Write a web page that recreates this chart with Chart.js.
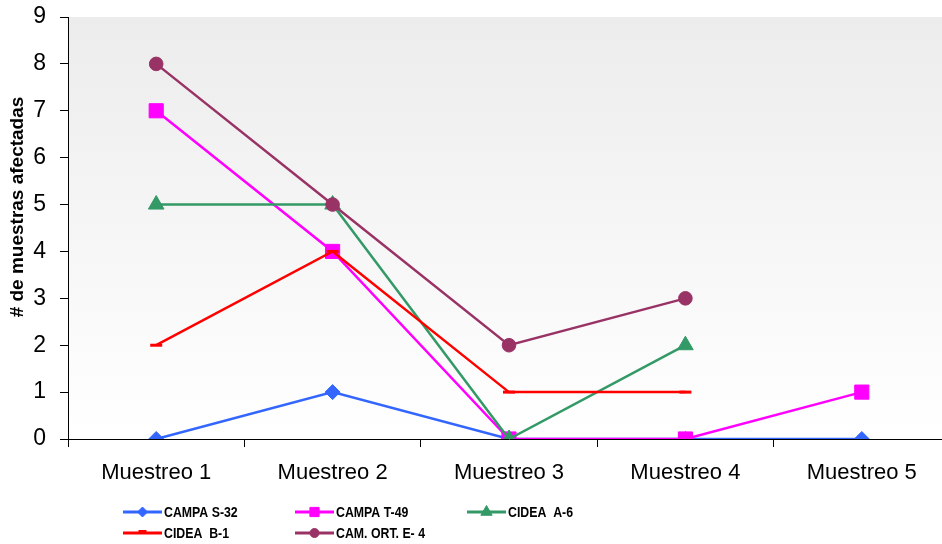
<!DOCTYPE html>
<html>
<head>
<meta charset="utf-8">
<script src="https://cdn.jsdelivr.net/npm/chart.js"></script>
<style>
  html, body { margin: 0; padding: 0; background: #fff; overflow: hidden; }
  #wrap { width: 961px; height: 544px; }
</style>
</head>
<body>
<div id="wrap"><canvas id="chart" width="961" height="544"></canvas></div>
<script>
const categories = ["Muestreo 1", "Muestreo 2", "Muestreo 3", "Muestreo 4", "Muestreo 5"];
const campaS32 = [0, 1, 0, 0, 0];
const campaT49 = [7, 4, 0, 0, 1];
const cideaA6 = [5, 5, 0, 2, null];
const cideaB1 = [2, 4, 1, 1, null];
const camOrtE4 = [8, 5, 2, 3, null];
const yTicks = [0, 1, 2, 3, 4, 5, 6, 7, 8, 9];
const yTitle = "# de muestras afectadas";

const series = [
  { label: "CAMPA S-32", data: campaS32, color: "#3366FF", style: "rectRot", r: 7.5, lr: 5 },
  { label: "CAMPA T-49", data: campaT49, color: "#FF00FF", style: "rect", r: 10, lr: 6.5 },
  { label: "CIDEA  A-6", data: cideaA6, color: "#339966", style: "triangle", r: 9, lr: 6.5 },
  { label: "CIDEA  B-1", data: cideaB1, color: "#FF0000", style: "line", r: 6, lr: 4 },
  { label: "CAM. ORT. E- 4", data: camOrtE4, color: "#993366", style: "circle", r: 6.8, lr: 4.5 }
];

// plot background gradient + axis title
const bgPlugin = {
  id: "bg",
  beforeDraw(chart) {
    const { ctx, chartArea: a } = chart;
    const g = ctx.createLinearGradient(0, a.top, 0, a.bottom);
    g.addColorStop(0, "#ececec");
    g.addColorStop(1, "#ffffff");
    ctx.save();
    ctx.fillStyle = g;
    ctx.fillRect(a.left, a.top, a.right - a.left, a.bottom - a.top);
    ctx.restore();
  },
  afterDraw(chart) {
    const ctx = chart.ctx;
    ctx.save();
    ctx.translate(18, 207);
    ctx.rotate(-Math.PI / 2);
    ctx.fillStyle = "#000";
    ctx.font = "bold 19px Arial, 'Liberation Sans', sans-serif";
    ctx.textAlign = "center";
    ctx.textBaseline = "middle";
    ctx.fillText(yTitle, 0, 0);
    ctx.restore();
  }
};

// legend in a 3-column grid under the axis
const legendPlugin = {
  id: "gridLegend",
  afterDraw(chart) {
    const ctx = chart.ctx;
    const colX = [123, 295, 467];
    const rowY = [512, 533];
    chart.data.datasets.forEach((ds, i) => {
      const s = series[i];
      const x = colX[i % 3], y = rowY[Math.floor(i / 3)];
      ctx.save();
      ctx.strokeStyle = s.color;
      ctx.fillStyle = s.color;
      ctx.lineWidth = 3;
      ctx.beginPath();
      ctx.moveTo(x, y);
      ctx.lineTo(x + 39, y);
      ctx.stroke();
      const mx = x + 19.5;
      if (Chart.helpers && Chart.helpers.drawPoint) {
        ctx.lineWidth = s.style === "line" ? 3 : 1;
        Chart.helpers.drawPoint(ctx, { pointStyle: s.style, radius: s.lr, borderWidth: ctx.lineWidth, rotation: 0 }, mx, s.style === "line" ? y - 1.5 : y);
      }
      ctx.fillStyle = "#000";
      ctx.font = "bold 14px Arial, 'Liberation Sans', sans-serif";
      ctx.textBaseline = "middle";
      ctx.textAlign = "left";
      ctx.translate(x + 41, y + 1);
      ctx.scale(0.88, 1);
      ctx.fillText(ds.label, 0, 0);
      ctx.restore();
    });
  }
};

new Chart(document.getElementById("chart").getContext("2d"), {
  type: "line",
  data: {
    labels: categories,
    datasets: series.map((s, i) => ({
      label: s.label,
      data: s.data,
      borderColor: s.color,
      backgroundColor: s.color,
      borderWidth: 2.5,
      pointStyle: s.style,
      pointRadius: s.r,
      pointHoverRadius: s.r,
      pointBorderWidth: s.style === "line" ? 3 : 1,
      pointBorderColor: s.color,
      pointBackgroundColor: s.color,
      tension: 0,
      spanGaps: false,
      order: series.length - i
    }))
  },
  options: {
    responsive: false,
    animation: false,
    layout: { padding: { top: 17, left: 0, right: 0, bottom: 0 } },
    plugins: {
      legend: { display: false },
      tooltip: { enabled: false }
    },
    scales: {
      x: {
        offset: true,
        afterFit(scale) { scale.height = 105; scale.paddingLeft = 0; scale.paddingRight = 0; },
        grid: { display: true, offset: true, drawOnChartArea: false, tickLength: 8, color: "#000", lineWidth: 1 },
        border: { display: true, color: "#000", width: 1 },
        ticks: {
          color: "#000",
          padding: 13,
          maxRotation: 0,
          font: { family: "Arial, 'Liberation Sans', sans-serif", size: 22 }
        }
      },
      y: {
        min: 0,
        max: 9,
        afterFit(scale) { scale.width = 68; scale.paddingTop = 0; scale.paddingBottom = 0; },
        afterBuildTicks(scale) { scale.ticks = yTicks.map(v => ({ value: v })); },
        grid: { display: true, drawOnChartArea: false, tickLength: 8, color: "#000", lineWidth: 1 },
        border: { display: true, color: "#000", width: 1 },
        ticks: {
          color: "#000",
          padding: 14,
          font: { family: "Arial, 'Liberation Sans', sans-serif", size: 23 }
        }
      }
    }
  },
  plugins: [bgPlugin, legendPlugin]
});
</script>
</body>
</html>
